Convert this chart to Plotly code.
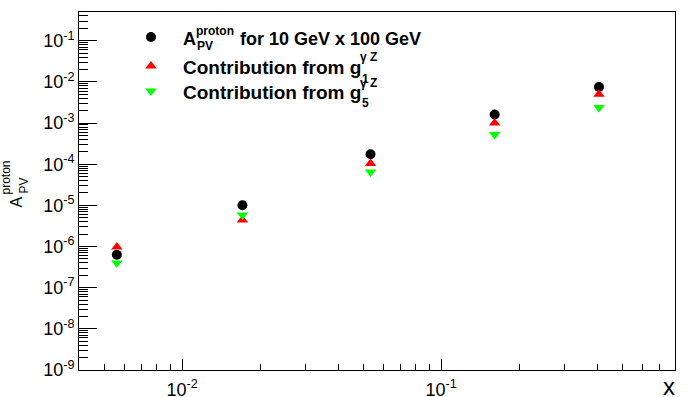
import math
import plotly.graph_objects as go

# ---- data ----
x_vals = [0.0056, 0.0171, 0.0534, 0.161, 0.407]
a_pv = [6.3e-7, 1.01e-5, 1.75e-4, 1.61e-3, 7.5e-3]
g1_contrib = [9.8e-7, 4.4e-6, 1.04e-4, 1.0e-3, 5.0e-3]
g5_contrib = [4.0e-7, 5.8e-6, 6.5e-5, 5.3e-4, 2.4e-3]

y_major = [1e-9, 1e-8, 1e-7, 1e-6, 1e-5, 1e-4, 1e-3, 1e-2, 1e-1]
y_labels = ["10<sup>-9</sup>", "10<sup>-8</sup>", "10<sup>-7</sup>", "10<sup>-6</sup>",
            "10<sup>-5</sup>", "10<sup>-4</sup>", "10<sup>-3</sup>", "10<sup>-2</sup>",
            "10<sup>-1</sup>"]
x_major = [1e-2, 1e-1]
x_labels = ["10<sup>-2</sup>", "10<sup>-1</sup>"]

X_RANGE = (0.004, 0.8)
Y_RANGE = (1e-9, 0.5)

FONT = "Liberation Sans, Arial, sans-serif"


def minor_ticks(lo, hi):
    vals = []
    e = -12
    while 10 ** e <= hi:
        for k in range(2, 10):
            v = k * 10 ** e
            if lo <= v <= hi * 1.0001:
                vals.append(v)
        e += 1
    return vals


W, H = 692, 397
L, R, T, B = 79, 17, 12, 27
PW, PH = W - L - R, H - T - B


def xp(px):
    return (px - L) / PW


def yp(py):
    return (H - B - py) / PH


fig = go.Figure()

fig.add_trace(go.Scatter(x=x_vals, y=a_pv, mode="markers", name="A_PV",
                         marker=dict(symbol="circle", size=10, color="black"),
                         showlegend=False))
fig.add_trace(go.Scatter(x=x_vals, y=g1_contrib, mode="markers", name="g1",
                         marker=dict(symbol="triangle-up", size=10, color="#ff0000"),
                         showlegend=False))
fig.add_trace(go.Scatter(x=x_vals, y=g5_contrib, mode="markers", name="g5",
                         marker=dict(symbol="triangle-down", size=10, color="#00ff00"),
                         showlegend=False))

# legend key markers (drawn in overlay axes spanning the plot area)
fig.add_trace(go.Scatter(
    x=[xp(151), xp(151), xp(151)], y=[yp(37), yp(66), yp(91)],
    mode="markers", xaxis="x2", yaxis="y2", showlegend=False, hoverinfo="skip",
    marker=dict(symbol=["circle", "triangle-up", "triangle-down"], size=10,
                color=["black", "#ff0000", "#00ff00"])))

axis_common = dict(showline=True, linecolor="black", linewidth=1, mirror=True,
                   showgrid=False, zeroline=False, ticks="inside", tickcolor="black",
                   tickfont=dict(family=FONT, size=18, color="black"), automargin=False)

fig.update_layout(
    width=W, height=H,
    margin=dict(l=L, r=R, t=T, b=B, pad=0),
    paper_bgcolor="white", plot_bgcolor="white",
    xaxis=dict(type="log", range=[math.log10(X_RANGE[0]), math.log10(X_RANGE[1])],
               tickvals=x_major, ticktext=x_labels, ticklen=11, ticklabelstandoff=3,
               minor=dict(tickvals=minor_ticks(*X_RANGE), ticks="inside", ticklen=6,
                          tickcolor="black", showgrid=False),
               **axis_common),
    yaxis=dict(type="log", range=[math.log10(Y_RANGE[0]), math.log10(Y_RANGE[1])],
               tickvals=y_major, ticktext=y_labels, ticklen=18,
               minor=dict(tickvals=minor_ticks(*Y_RANGE), ticks="inside", ticklen=9,
                          tickcolor="black", showgrid=False),
               **axis_common),
    xaxis2=dict(overlaying="x", range=[0, 1], visible=False, fixedrange=True),
    yaxis2=dict(overlaying="y", range=[0, 1], visible=False, fixedrange=True),
    showlegend=False,
)

ann = []


def text(px, py, s, size, bold=True, xanchor="left", angle=0):
    ann.append(dict(x=xp(px), y=yp(py), xref="paper", yref="paper", text=s,
                    showarrow=False, xanchor=xanchor, yanchor="middle", textangle=angle,
                    font=dict(family=FONT, size=size, color="black",
                              weight="bold" if bold else "normal")))


# legend texts
text(181, 39, "A", 18)
text(194, 31, "proton", 12)
text(195, 46, "PV", 12)
text(238, 39, "for 10 GeV x 100 GeV", 18)
text(181, 67, "Contribution from g", 19)
text(358, 57, "γ Z", 12)
text(360, 79, "1", 12)
text(181, 92, "Contribution from g", 19)
text(358, 83, "γ Z", 12)
text(360, 103, "5", 12)

# axis titles
text(669, 386, "x", 24, bold=False, xanchor="center")
text(15.5, 202, "A", 16, bold=False, xanchor="center", angle=-90)
text(5.5, 178, "proton", 12, bold=False, xanchor="center", angle=-90)
text(23.5, 186, "PV", 12, bold=False, xanchor="center", angle=-90)

fig.update_layout(annotations=ann)

fig.write_html("out.html")
